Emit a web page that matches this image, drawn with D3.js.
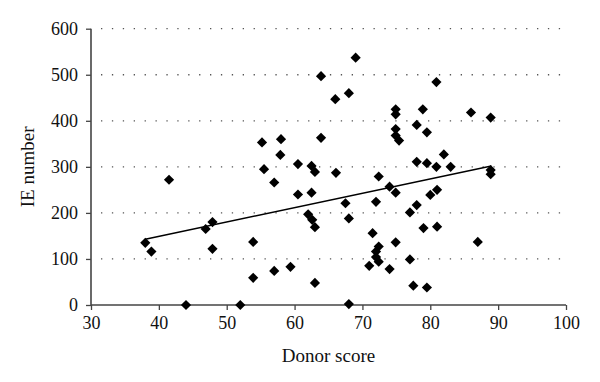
<!DOCTYPE html>
<html>
<head>
<meta charset="utf-8">
<script src="https://cdn.jsdelivr.net/npm/d3@7"></script>
<style>
  body { margin: 0; background: #fff; }
  text { font-family: "Liberation Serif", serif; fill: #111; }
</style>
</head>
<body>
<div id="chart"></div>
<script>
// values
var donorScore = [38.0, 38.9, 41.5, 44.0, 46.9, 47.9, 47.9, 52.0, 53.9, 53.9,
    55.2, 55.5, 57.0, 57.0, 58.0, 57.9, 59.4, 60.5, 60.5, 62.0,
    62.5, 62.5, 63.0, 62.6, 63.0, 63.0, 63.9, 63.9, 66.0, 66.1,
    67.5, 68.0, 68.0, 68.0, 69.0, 71.0, 71.5, 72.0, 72.4, 72.0,
    72.0, 72.4, 72.4, 74.0, 74.0, 74.9, 74.9, 74.9, 74.9, 75.4,
    74.9, 74.9, 77.0, 77.0, 77.5, 78.0, 78.0, 78.0, 78.9, 79.0,
    79.5, 79.5, 80.0, 79.5, 80.9, 80.9, 81.0, 81.0, 82.0, 83.0,
    86.0, 87.0, 88.9, 88.9, 88.9];
var ieNumber = [135, 116, 272, 0, 165, 180, 122, 0, 137, 59,
    353, 295, 266, 74, 360, 326, 83, 240, 306, 197,
    302, 244, 289, 185, 169, 48, 497, 363, 447, 287,
    221, 460, 188, 2, 537, 85, 156, 224, 127, 116,
    104, 94, 279, 257, 78, 425, 414, 382, 368, 357,
    244, 136, 201, 99, 42, 391, 311, 217, 425, 167,
    375, 308, 239, 38, 484, 300, 250, 170, 327, 300,
    418, 137, 407, 293, 284];
var trendX = [38, 89];
var trendY = [143, 302];
var xTicks = [30, 40, 50, 60, 70, 80, 90, 100];
var yTicks = [0, 100, 200, 300, 400, 500, 600];

var W = 600, H = 382;
var x = d3.scaleLinear().domain([30, 100]).range([91, 566]);
var y = d3.scaleLinear().domain([0, 600]).range([305, 28.7]);

var svg = d3.select('#chart').append('svg').attr('width', W).attr('height', H);

// dotted grid lines
svg.append('g').selectAll('line').data(yTicks.slice(1)).enter().append('line')
    .attr('x1', 101).attr('x2', 567)
    .attr('y1', function(d) { return y(d); })
    .attr('y2', function(d) { return y(d); })
    .attr('stroke', '#555')
    .attr('stroke-width', 1.3)
    .attr('stroke-dasharray', '1.3 9.6');

var yAxis = svg.append('g').attr('transform', 'translate(91,0)')
    .call(d3.axisLeft(y).tickValues(yTicks).tickSize(5).tickPadding(8));
var xAxis = svg.append('g').attr('transform', 'translate(0,305)')
    .call(d3.axisBottom(x).tickValues(xTicks).tickSize(5).tickPadding(6));

[yAxis, xAxis].forEach(function(a) {
    a.select('.domain').attr('stroke', '#444').attr('stroke-width', 1.6);
    a.selectAll('.tick line').attr('stroke', '#444').attr('stroke-width', 1.3);
    a.selectAll('.tick text').style('font-family', '"Liberation Serif", serif')
        .style('font-size', '18px').attr('fill', '#111');
});
yAxis.select('.domain').attr('d', 'M0,' + y(600) + 'V' + y(0));
xAxis.select('.domain').attr('d', 'M' + x(30) + ',0H' + x(100));

// trend line
svg.append('path')
    .datum(d3.range(trendX.length))
    .attr('d', d3.line().x(function(i) { return x(trendX[i]); }).y(function(i) { return y(trendY[i]); }))
    .attr('stroke', '#000').attr('stroke-width', 1.5).attr('fill', 'none');

// diamonds
var diamond = d3.symbol().type(d3.symbolSquare).size(52);
svg.append('g').selectAll('path').data(d3.range(donorScore.length)).enter().append('path')
    .attr('d', diamond)
    .attr('transform', function(i) {
        return 'translate(' + x(donorScore[i]) + ',' + y(ieNumber[i]) + ') rotate(45)';
    })
    .attr('fill', '#000');

svg.append('text')
    .attr('x', (x(30) + x(100)) / 2).attr('y', 362)
    .attr('text-anchor', 'middle')
    .style('font-size', '19px')
    .text('Donor score');

svg.append('text')
    .attr('transform', 'translate(34,' + ((y(0) + y(600)) / 2) + ') rotate(-90)')
    .attr('text-anchor', 'middle')
    .style('font-size', '19px')
    .text('IE number');
</script>
</body>
</html>
